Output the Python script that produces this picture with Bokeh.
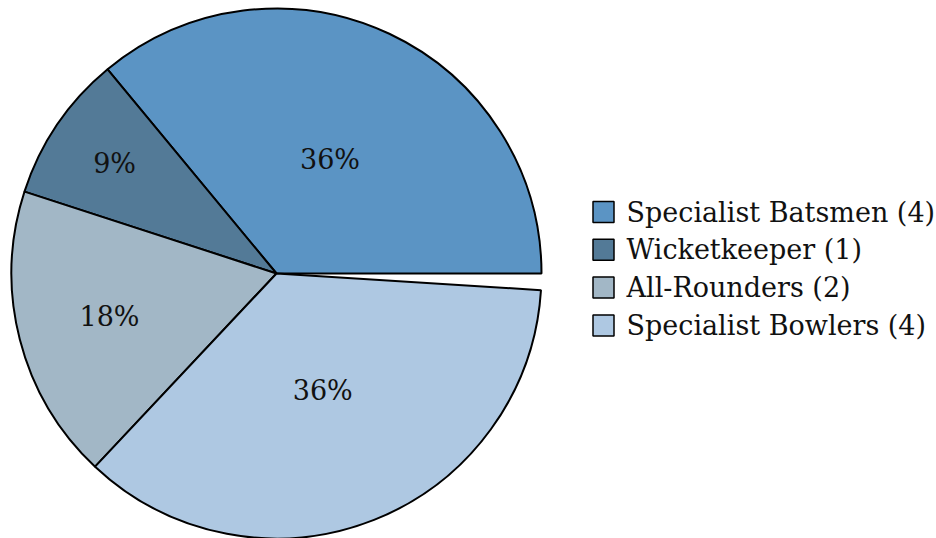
import math
from bokeh.plotting import figure
from bokeh.models import Range1d, ColumnDataSource
from bokeh.core.properties import value
from bokeh.embed import file_html
from bokeh.resources import INLINE

categories = ["Specialist Batsmen", "Wicketkeeper", "All-Rounders", "Specialist Bowlers"]
counts = [4, 1, 2, 4]
percents = [36, 9, 18, 36]
colors = ["#5b94c4", "#537a97", "#a2b7c6", "#aec8e2"]

W, H = 936, 538
FONT = value("DejaVu Serif")
p = figure(width=W, height=H, output_backend="svg", toolbar_location=None,
           x_range=Range1d(0, W), y_range=Range1d(0, H), min_border=0,
           x_axis_location=None, y_axis_location=None)
p.grid.visible = False
p.outline_line_color = None

cx, cy, R = 276, 265, 265

starts, ends, lx, ly = [], [], [], []
acc = 0.0
for pct in percents:
    a0 = acc
    a1 = acc + pct / 100 * 2 * math.pi
    starts.append(a0)
    ends.append(a1)
    deg = math.degrees(a1 - a0)
    rf = 0.8 + min(-0.3 * (deg - 10) / 110, 0)
    mid = (a0 + a1) / 2
    lx.append(cx + R * rf * math.cos(mid))
    ly.append(cy + R * rf * math.sin(mid))
    acc = a1

src = ColumnDataSource(dict(start=starts, end=ends, color=colors,
                            lx=lx, ly=ly, lab=[f"{v}%" for v in percents]))
p.wedge(x=cx, y=cy, radius=R, start_angle="start", end_angle="end",
        direction="anticlock", fill_color="color", line_color="black",
        line_width=2, source=src)
p.text(x="lx", y="ly", text="lab", source=src, text_align="center",
       text_baseline="middle", text_font=FONT, text_font_size="27px",
       text_color="#111111")

# legend
bx, by0, step = 603, 538 - 211.5, 37.8
leg = ColumnDataSource(dict(
    x=[bx] * len(categories),
    y=[by0 - i * step for i in range(len(categories))],
    tx=[bx + 23] * len(categories),
    color=colors,
    lab=[f"{c} ({n})" for c, n in zip(categories, counts)],
))
p.rect(x="x", y="y", width=21, height=21, fill_color="color",
       line_color="black", line_width=1.5, source=leg)
p.text(x="tx", y="y", text="lab", source=leg, text_align="left",
       text_baseline="middle", text_font=FONT, text_font_size="27px",
       text_color="#111111")

open("out.html", "w").write(file_html(p, INLINE))
